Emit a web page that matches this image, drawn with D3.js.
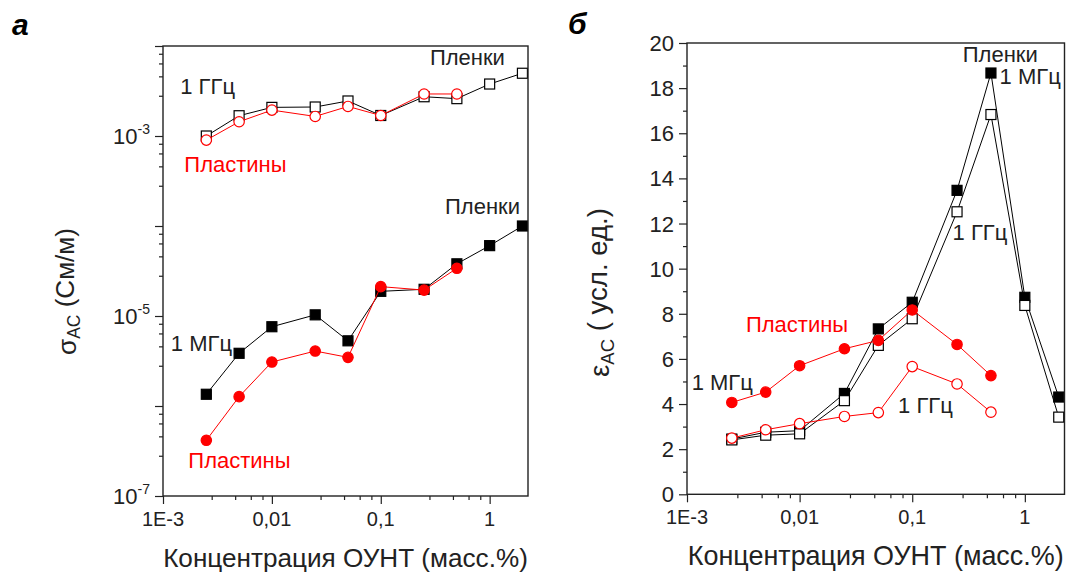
<!DOCTYPE html>
<html>
<head>
<meta charset="utf-8">
<script src="https://cdn.jsdelivr.net/npm/d3@7/dist/d3.min.js"></script>
<style>
  body { margin: 0; background: #fff; }
  svg { display: block; font-family: "Liberation Sans", Arial, sans-serif; }
  .axis path.domain { display: none; }
  .axis line { stroke: #222; stroke-width: 1.2; }
</style>
</head>
<body>
<svg id="chart" width="1068" height="572" viewBox="0 0 1068 572"></svg>
<script>
// concentration of SWCNT, mass %
const concentration = [0.0025, 0.005, 0.01, 0.025, 0.05, 0.1, 0.25, 0.5, 1, 2];

// panel a: AC conductivity, S/m
const sigmaFilmsGHz = [1.0e-3, 1.68e-3, 2.08e-3, 2.1e-3, 2.45e-3, 1.69e-3, 2.73e-3, 2.6e-3, 3.78e-3, 4.98e-3];
const sigmaPlatesGHz = [0.9e-3, 1.44e-3, 1.94e-3, 1.65e-3, 2.13e-3, 1.69e-3, 2.93e-3, 2.93e-3];
const sigmaFilmsMHz = [1.35e-6, 3.85e-6, 7.6e-6, 1.03e-5, 5.3e-6, 1.88e-5, 1.98e-5, 3.8e-5, 6.05e-5, 1.0e-4];
const sigmaPlatesMHz = [4.16e-7, 1.27e-6, 3.08e-6, 4.08e-6, 3.47e-6, 2.12e-5, 1.94e-5, 3.39e-5];

// panel б: AC permittivity
const epsFilmsMHz = [2.45, 2.75, 2.82, 4.47, 7.33, 8.51, 13.47, 18.67, 8.73, 4.31];
const epsFilmsGHz = [2.41, 2.62, 2.68, 4.15, 6.60, 7.78, 12.52, 16.83, 8.37, 3.42];
const epsPlatesMHz = [4.07, 4.53, 5.70, 6.45, 6.82, 8.17, 6.64, 5.26];
const epsPlatesGHz = [2.49, 2.86, 3.13, 3.45, 3.62, 5.66, 4.89, 3.64];

// ticks
const xMajorTicks = [0.001, 0.01, 0.1, 1];
const xTickLabels = ["1E-3", "0,01", "0,1", "1"];
const sigmaDecades = [1e-7, 1e-6, 1e-5, 1e-4, 1e-3, 1e-2];
const sigmaLabelExponents = [-3, -5, -7];
const epsMajorTicks = [0, 2, 4, 6, 8, 10, 12, 14, 16, 18, 20];
const logMinorSteps = [2.8, 4.6, 6.4, 8.2];

const INK = "#222";
const RED = "#ff0000";
const X_MAX = 2.25;

const svg = d3.select("#chart");

function minorTicks(decades, max) {
  const out = [];
  for (const d of decades) {
    for (const m of logMinorSteps) {
      if (d * m <= max) out.push(d * m);
    }
  }
  return out;
}

// scale the font so the text runs over the given length
function fitLength(text, length) {
  const size = parseFloat(text.attr("font-size"));
  const current = text.node().getComputedTextLength();
  text.attr("font-size", size * length / current);
}

function drawXAxis(g, xScale, box, titleLength) {
  const minor = minorTicks(xMajorTicks, X_MAX);
  g.append("g").attr("class", "axis")
    .attr("transform", `translate(0, ${box.bottom})`)
    .call(d3.axisBottom(xScale).tickValues(minor).tickSize(4).tickFormat(""));
  g.append("g").attr("class", "axis")
    .attr("transform", `translate(0, ${box.bottom})`)
    .call(d3.axisBottom(xScale).tickValues(xMajorTicks).tickSize(8).tickFormat(""));

  g.append("g")
    .selectAll("text")
    .data(xMajorTicks)
    .join("text")
    .attr("x", d => xScale(d))
    .attr("y", box.bottom + 30)
    .attr("text-anchor", "middle")
    .attr("font-size", 20)
    .attr("fill", INK)
    .text((_d, i) => xTickLabels[i]);

  const title = g.append("text")
    .attr("x", (box.left + box.right) / 2)
    .attr("y", box.bottom + 71)
    .attr("text-anchor", "middle")
    .attr("font-size", 26)
    .attr("fill", INK)
    .text("Концентрация ОУНТ (масс.%)");
  fitLength(title, titleLength);
}

function drawYTitle(g, x, y, symbol, rest, length) {
  const title = g.append("text")
    .attr("transform", `translate(${x}, ${y}) rotate(-90)`)
    .attr("text-anchor", "middle")
    .attr("font-size", 24)
    .attr("fill", INK);
  title.append("tspan").text(symbol);
  title.append("tspan").attr("dy", "0.25em").attr("font-size", "0.67em").text("AC");
  title.append("tspan").attr("dy", "-0.25em").text(rest);
  fitLength(title, length);
}

function drawFrame(g, box) {
  g.append("rect")
    .attr("x", box.left)
    .attr("y", box.top)
    .attr("width", box.right - box.left)
    .attr("height", box.bottom - box.top)
    .attr("fill", "none")
    .attr("stroke", INK)
    .attr("stroke-width", 1.4);
}

function drawSeries(g, xScale, yScale, values, style) {
  const points = values.map((v, i) => ({ x: concentration[i], y: v }));
  const color = style.red ? RED : "#000";
  const line = d3.line().x(p => xScale(p.x)).y(p => yScale(p.y));

  g.append("path")
    .attr("d", line(points))
    .attr("fill", "none")
    .attr("stroke", color)
    .attr("stroke-width", 1);

  const fill = style.filled ? color : "#fff";
  if (style.shape === "square") {
    g.append("g")
      .selectAll("rect")
      .data(points)
      .join("rect")
      .attr("x", p => xScale(p.x) - 5)
      .attr("y", p => yScale(p.y) - 5)
      .attr("width", 10)
      .attr("height", 10)
      .attr("fill", fill)
      .attr("stroke", color)
      .attr("stroke-width", 1.2);
  } else {
    g.append("g")
      .selectAll("circle")
      .data(points)
      .join("circle")
      .attr("cx", p => xScale(p.x))
      .attr("cy", p => yScale(p.y))
      .attr("r", 5.2)
      .attr("fill", fill)
      .attr("stroke", color)
      .attr("stroke-width", 1.2);
  }
}

function addLabel(g, x, y, text, color) {
  g.append("text")
    .attr("x", x)
    .attr("y", y)
    .attr("font-size", 22)
    .attr("fill", color)
    .text(text);
}

// ---------- panel a ----------
{
  const box = { left: 163, right: 528, top: 46, bottom: 496 };
  const g = svg.append("g");
  const x = d3.scaleLog().domain([0.001, X_MAX]).range([box.left, box.right]);
  const y = d3.scaleLog().domain([1e-7, 1e-2]).range([box.bottom, box.top]);

  g.append("g").attr("class", "axis")
    .attr("transform", `translate(${box.left}, 0)`)
    .call(d3.axisLeft(y).tickValues(minorTicks(sigmaDecades.slice(0, -1), 1e-2)).tickSize(4).tickFormat(""));
  g.append("g").attr("class", "axis")
    .attr("transform", `translate(${box.left}, 0)`)
    .call(d3.axisLeft(y).tickValues(sigmaDecades).tickSize(8).tickFormat(""));

  for (const e of sigmaLabelExponents) {
    const t = g.append("text")
      .attr("x", box.left - 13)
      .attr("y", y(Math.pow(10, e)) + 8)
      .attr("text-anchor", "end")
      .attr("font-size", 22)
      .attr("fill", INK);
    t.append("tspan").text("10");
    t.append("tspan").attr("dy", -10).attr("font-size", 14).text(String(e));
  }

  drawXAxis(g, x, box, 365);
  drawYTitle(g, 76, 291.5, "σ", " (См/м)", 127);

  drawSeries(g, x, y, sigmaFilmsGHz, { shape: "square", filled: false });
  drawSeries(g, x, y, sigmaFilmsMHz, { shape: "square", filled: true });
  drawSeries(g, x, y, sigmaPlatesGHz, { shape: "circle", filled: false, red: true });
  drawSeries(g, x, y, sigmaPlatesMHz, { shape: "circle", filled: true, red: true });

  addLabel(g, x(0.283), y(6.15e-3), "Пленки", INK);
  addLabel(g, x(1.44e-3), y(2.93e-3), "1 ГГц", INK);
  addLabel(g, x(1.57e-3), y(3.98e-4), "Пластины", RED);
  addLabel(g, x(0.389), y(1.36e-4), "Пленки", INK);
  addLabel(g, x(1.18e-3), y(4.08e-6), "1 МГц", INK);
  addLabel(g, x(1.71e-3), y(2.05e-7), "Пластины", RED);

  drawFrame(g, box);

  g.append("text")
    .attr("x", 12)
    .attr("y", 35)
    .attr("font-size", 30)
    .attr("font-weight", "bold")
    .attr("font-style", "italic")
    .attr("fill", "#000")
    .text("а");
}

// ---------- panel б ----------
{
  const box = { left: 687, right: 1064.5, top: 43, bottom: 494.3 };
  const g = svg.append("g");
  const x = d3.scaleLog().domain([0.001, X_MAX]).range([box.left, box.right]);
  const y = d3.scaleLinear().domain([0, 20]).range([box.bottom, box.top]);

  g.append("g").attr("class", "axis")
    .attr("transform", `translate(${box.left}, 0)`)
    .call(d3.axisLeft(y).tickValues(epsMajorTicks.slice(0, -1).map(v => v + 1)).tickSize(4).tickFormat(""));
  g.append("g").attr("class", "axis")
    .attr("transform", `translate(${box.left}, 0)`)
    .call(d3.axisLeft(y).tickValues(epsMajorTicks).tickSize(8).tickFormat(""));

  g.append("g")
    .selectAll("text")
    .data(epsMajorTicks)
    .join("text")
    .attr("x", box.left - 13)
    .attr("y", d => y(d) + 8)
    .attr("text-anchor", "end")
    .attr("font-size", 22)
    .attr("fill", INK)
    .text(d => d);

  drawXAxis(g, x, box, 376);
  drawYTitle(g, 609, 292.5, "ε", " ( усл. ед.)", 169);

  drawSeries(g, x, y, epsFilmsMHz, { shape: "square", filled: true });
  drawSeries(g, x, y, epsFilmsGHz, { shape: "square", filled: false });
  drawSeries(g, x, y, epsPlatesMHz, { shape: "circle", filled: true, red: true });
  drawSeries(g, x, y, epsPlatesGHz, { shape: "circle", filled: false, red: true });

  addLabel(g, x(0.281), y(19.16), "Пленки", INK);
  addLabel(g, x(0.597), y(18.19), "1 МГц", INK);
  addLabel(g, x(0.228), y(11.27), "1 ГГц", INK);
  addLabel(g, x(3.34e-3), y(7.19), "Пластины", RED);
  addLabel(g, x(1.10e-3), y(4.62), "1 МГц", INK);
  addLabel(g, x(0.0749), y(3.59), "1 ГГц", INK);

  drawFrame(g, box);

  g.append("text")
    .attr("x", 568)
    .attr("y", 34)
    .attr("font-size", 30)
    .attr("font-weight", "bold")
    .attr("font-style", "italic")
    .attr("fill", "#000")
    .text("б");
}
</script>
</body>
</html>
